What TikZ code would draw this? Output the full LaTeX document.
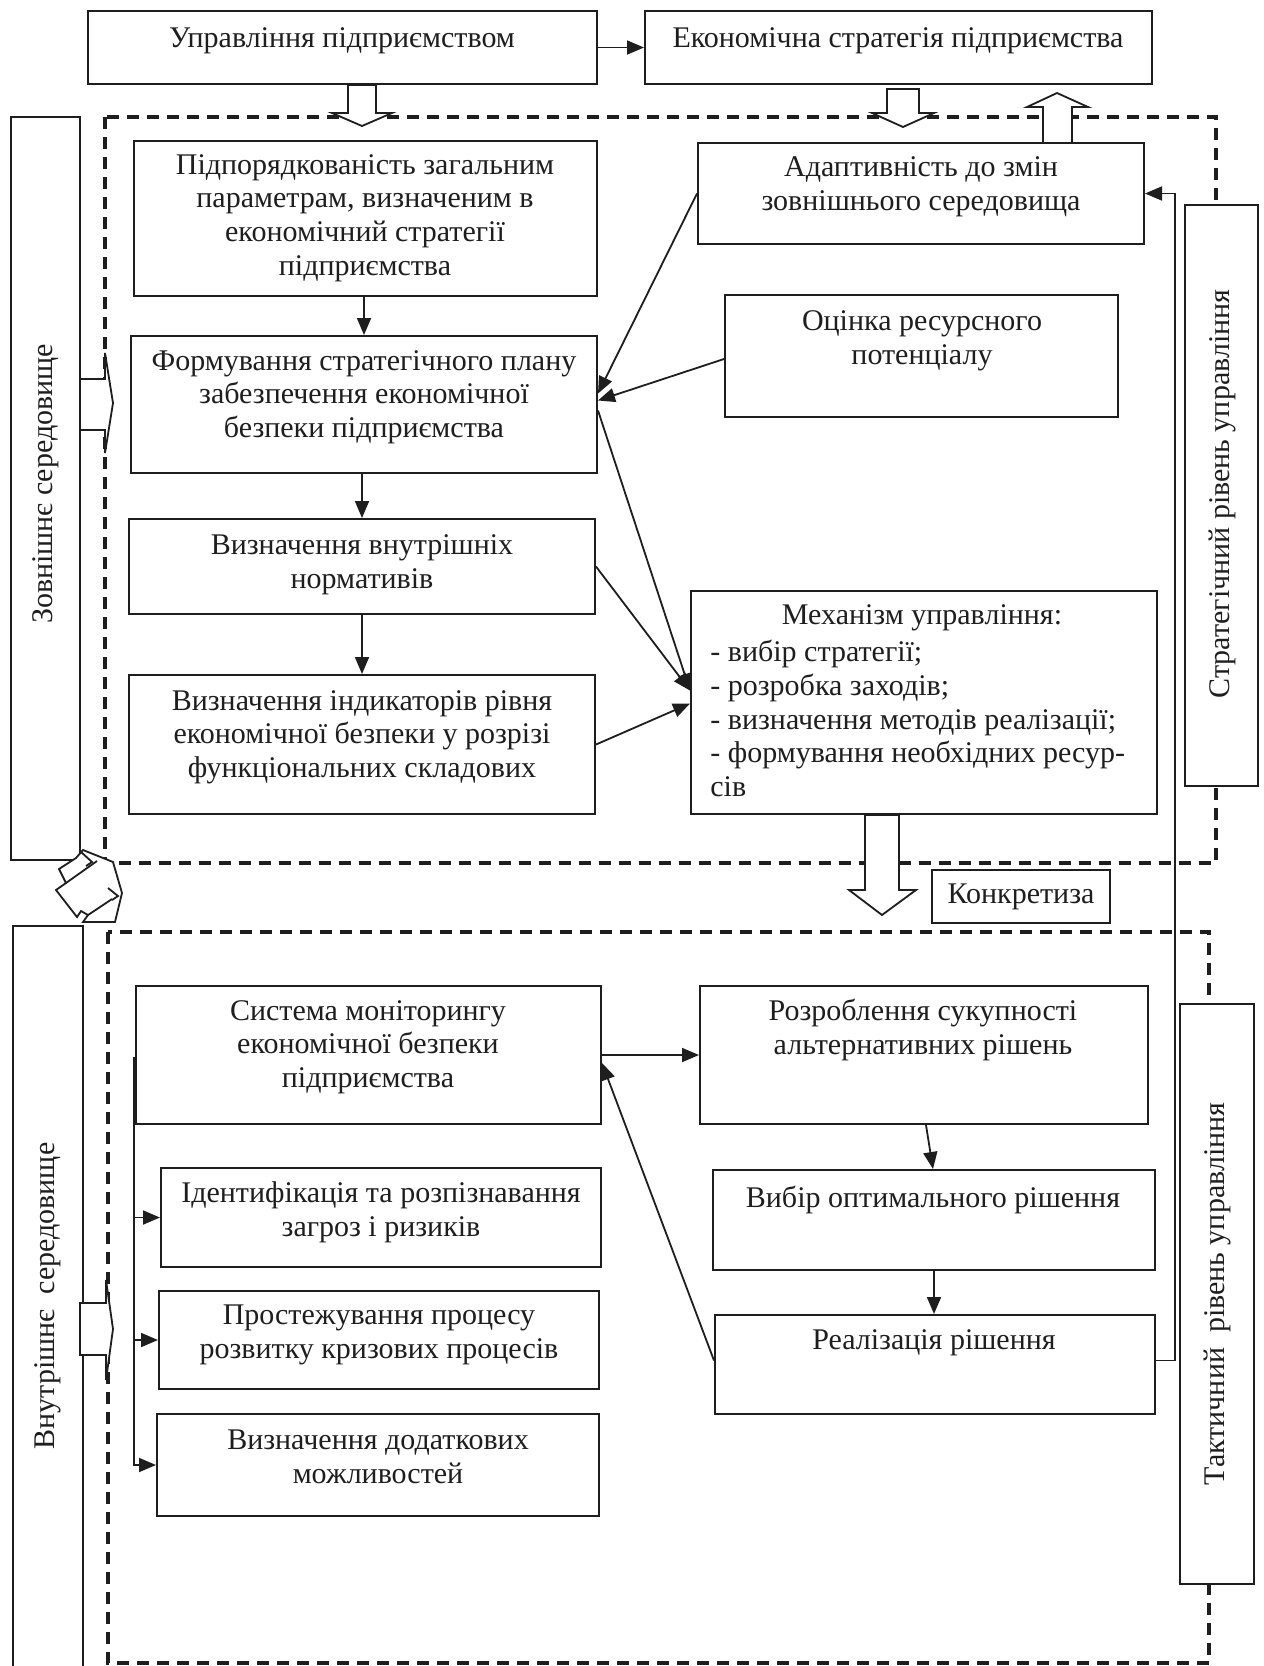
\documentclass[tikz,border=0pt]{standalone}
\usepackage{fontspec}
\setmainfont{Liberation Serif}
\usetikzlibrary{arrows.meta,calc}
\definecolor{ink}{HTML}{1E1E1E}
\tikzset{
  cbox/.style={draw=ink, line width=1pt, fill=white, inner sep=0pt},
  sz/.style 2 args={minimum width=#1*0.5pt, minimum height=#2*0.5pt},
  txt/.style={align=center, text=ink, inner sep=0pt, font=\fontsize{15}{16.8}\selectfont},
  vtxt/.style={txt, rotate=90},
  conn/.style={draw=ink, line width=0.9pt, -{Triangle[length=8.5pt,width=7pt]}},
  solidline/.style={draw=ink, line width=0.9pt},
  dashframe/.style={draw=ink, line width=1.6pt, dash pattern=on 6pt off 4pt},
  blockarrow/.style={draw=ink, line width=0.9pt, fill=white, line join=miter},
}
\begin{document}
\begin{tikzpicture}[x=0.5pt,y=-0.5pt]
\useasboundingbox (0,0) rectangle (1264,1666);
\fill[white] (0,0) rectangle (1264,1666);

% dashed frames
\draw[dashframe] (105,117) rectangle (1216,863);
\draw[dashframe] (108,932) rectangle (1209,1663);

% boxes
\node[cbox, sz={509}{73}] (upr) at (342.5,47.5) {};
\node[cbox, sz={507}{73}] (econ) at (898.5,47.5) {};
\node[cbox, sz={69}{743}] (zovn) at (45.5,488.5) {};
\node[cbox, sz={70}{754}] (vnut) at (48,1303) {};
\node[cbox, sz={73}{581}] (strat) at (1221.5,495.5) {};
\node[cbox, sz={74}{580}] (takt) at (1217,1294) {};
\node[cbox, sz={463}{155}] (pidp) at (365.5,218.5) {};
\node[cbox, sz={466}{137}] (form) at (364,404.5) {};
\node[cbox, sz={466}{95}] (norm) at (362,566.5) {};
\node[cbox, sz={466}{139}] (indyk) at (362,744.5) {};
\node[cbox, sz={446}{101}] (adapt) at (921,193.5) {};
\node[cbox, sz={393}{122}] (ocin) at (921.5,356) {};
\node[cbox, sz={466}{223}] (mech) at (924,702.5) {};
\node[cbox, sz={178}{53}] (konk) at (1021,896.5) {};
\node[cbox, sz={465}{138}] (syst) at (368.5,1055) {};
\node[cbox, sz={440}{99}] (ident) at (381,1217.5) {};
\node[cbox, sz={440}{98}] (prost) at (379,1340) {};
\node[cbox, sz={442}{102}] (dodat) at (378,1465) {};
\node[cbox, sz={448}{138}] (rozr) at (924,1055) {};
\node[cbox, sz={442}{100}] (vybir) at (934,1220) {};
\node[cbox, sz={440}{99}] (real) at (935,1364.5) {};

% texts
\node[txt] (upr-t) at (342,41) {Управління підприємством};
\node[txt] (econ-t) at (898,41) {Економічна стратегія підприємства};
\node[vtxt] (zovn-t) at (46,484) {Зовнішнє середовище};
\node[vtxt] (vnut-t) at (48,1296) {Внутрішнє\ \ середовище};
\node[vtxt] (strat-t) at (1222,494) {Стратегічний рівень управління};
\node[vtxt] (takt-t) at (1217,1294) {Тактичний\ \ рівень управління};
\node[txt] (pidp-t) at (365,218) {Підпорядкованість загальним\\параметрам, визначеним в\\економічний стратегії\\підприємства};
\node[txt] (form-t) at (364,397) {Формування стратегічного плану\\забезпечення економічної\\безпеки підприємства};
\node[txt] (norm-t) at (362,565) {Визначення внутрішніх\\нормативів};
\node[txt] (indyk-t) at (362,737) {Визначення індикаторів рівня\\економічної безпеки у розрізі\\функціональних складових};
\node[txt] (adapt-t) at (921,187) {Адаптивність до змін\\зовнішнього середовища};
\node[txt] (ocin-t) at (922,341) {Оцінка ресурсного\\потенціалу};
\node[txt] (mech-t1) at (922,618) {Механізм управління:};
\node[txt, align=left, anchor=west] (mech-t2) at (710,718.5) {- вибір стратегії;\\- розробка заходів;\\- визначення методів реалізації;\\- формування необхідних ресур-\\сів};
\node[txt] (konk-t) at (1021,897) {Конкретиза};
\node[txt] (syst-t) at (368,1047) {Система моніторингу\\економічної безпеки\\підприємства};
\node[txt] (ident-t) at (381,1212) {Ідентифікація та розпізнавання\\загроз і ризиків};
\node[txt] (prost-t) at (379,1335) {Простежування процесу\\розвитку кризових процесів};
\node[txt] (dodat-t) at (378,1457) {Визначення додаткових\\можливостей};
\node[txt] (rozr-t) at (923,1030) {Розроблення сукупності\\альтернативних рішень};
\node[txt] (vybir-t) at (933,1200) {Вибір оптимального рішення};
\node[txt] (real-t) at (934,1343) {Реалізація рішення};

% hollow block arrows
\draw[blockarrow] (348,85) -- (376,85) -- (376,113) -- (392,113) -- (362,126) -- (332,113) -- (348,113) -- cycle;
\draw[blockarrow] (887,89) -- (919,89) -- (919,113) -- (934,113) -- (903,127) -- (872,113) -- (887,113) -- cycle;
\draw[blockarrow] (1043,143) -- (1043,107) -- (1027,107) -- (1057,93) -- (1088,107) -- (1072,107) -- (1072,143) -- cycle;
\draw[blockarrow] (865,815) -- (899,815) -- (899,890) -- (916,890) -- (882,915) -- (849,890) -- (865,890) -- cycle;
\draw[blockarrow] (80,379) -- (105,379) -- (105,353) -- (113,403) -- (105,453) -- (105,430) -- (80,430) -- cycle;
\draw[blockarrow] (80,1303) -- (106,1303) -- (106,1280) -- (113,1329) -- (106,1380) -- (106,1355) -- (80,1355) -- cycle;
% crumpled two-way arrow between the environments
\draw[blockarrow] (83,850) -- (113,862) -- (122,893) -- (115,922) -- (83,922) -- (88,915) -- (81,911) -- (77,917) -- (56,890) -- (66,883) -- (59,869) -- (76,858) -- cycle;
\draw[solidline] (80,851) -- (92,862) -- (86,866);
\draw[solidline] (66,883) -- (97,861);
\draw[solidline] (108,888) -- (118,896) -- (112,900);
\draw[solidline] (88,915) -- (112,899);

% connectors (upper level)
\draw[conn] (upr) -- (econ);
\draw[conn] (pidp.south -| form.north) -- (form.north);
\draw[conn] (form.south -| norm.north) -- (norm.north);
\draw[conn] (norm.south) -- (indyk.north);
\draw[conn] (adapt.west) -- ($(form.east)+(0,-11)$);
\draw[conn] ($(ocin.west)+(0,3)$) -- ($(form.east)+(0,-4)$);
\draw[conn] ($(form.east)+(0,6)$) -- ($(mech.west)+(0,-12)$);
\draw[conn] (norm.east) -- ($(mech.west)+(0,-12)$);
\draw[conn] (indyk.east) -- ($(mech.west)+(0,1)$);

% connectors (lower level)
\draw[conn] (syst) -- (rozr);
\draw[conn] ($(real.west)+(0,-4)$) -- ($(syst.east)+(0,8)$);
\draw[conn] ($(rozr.south)+(2,0)$) -- ($(vybir.north)+(-1,0)$);
\draw[conn] (vybir.south) -- (vybir.south |- real.north);
\draw[conn] ($(real.east)+(0,-4)$) -| ($(adapt.east)+(30,0)$) -- (adapt.east);
\coordinate (brtop) at (134,1057);
\draw[conn] (brtop) |- (dodat.west);
\draw[conn] (brtop |- ident.west) -- (ident.west);
\draw[conn] (brtop |- prost.west) -- (prost.west);
\end{tikzpicture}
\end{document}
